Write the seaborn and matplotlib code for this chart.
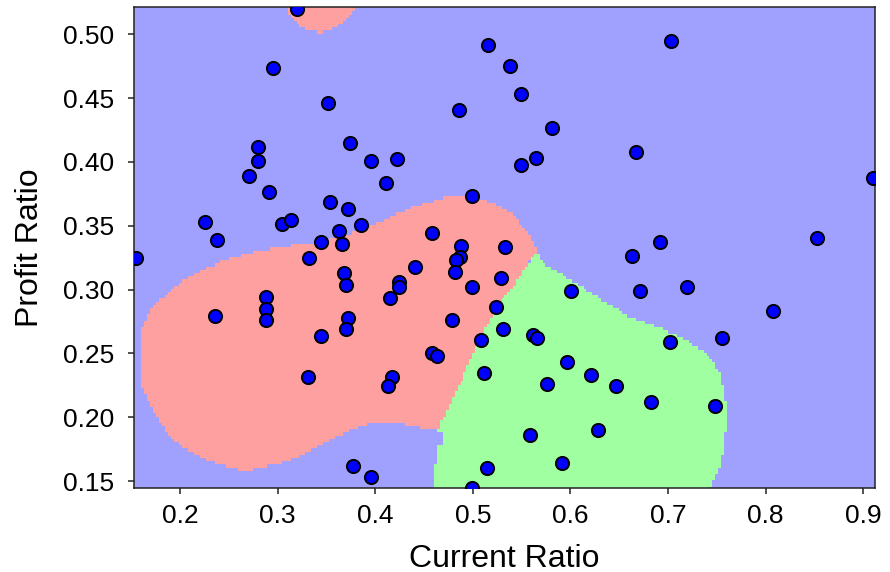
import numpy as np
import pandas as pd
import matplotlib
matplotlib.use("Agg")
import matplotlib.pyplot as plt
import seaborn as sns
from matplotlib.path import Path
from matplotlib.colors import ListedColormap

# ---- data points ----
current_ratio = [
    0.320, 0.2953, 0.352, 0.2796, 0.3745, 0.2796, 0.3954, 0.4107, 0.4223, 0.2704,
    0.2912, 0.354, 0.3721, 0.2256, 0.3042, 0.3134, 0.3858, 0.2382, 0.3629, 0.3448,
    0.3657, 0.1546, 0.3318, 0.368, 0.3701, 0.2881, 0.2881, 0.2881, 0.2362, 0.3721,
    0.3701, 0.3448, 0.3316, 0.3769, 0.3954,
    0.5153, 0.5378, 0.5491, 0.4855, 0.5808, 0.5651, 0.5491, 0.4995, 0.4585, 0.4879,
    0.533, 0.4869, 0.4828, 0.4404, 0.4813, 0.4247, 0.4247, 0.5289, 0.4155, 0.4995,
    0.6009, 0.5241, 0.4787, 0.5309, 0.562, 0.5653, 0.5084, 0.4585, 0.463, 0.5969,
    0.5112, 0.6211, 0.4176, 0.4135, 0.5763, 0.6462, 0.5586, 0.6283, 0.5149, 0.5911,
    0.4995,
    0.7031, 0.6669, 0.9097, 0.6918, 0.8524, 0.6628, 0.6716, 0.7191, 0.8073, 0.7018,
    0.7553, 0.6829, 0.7485,
]
profit_ratio = [
    0.5196, 0.4736, 0.4459, 0.4117, 0.4148, 0.4007, 0.4007, 0.3837, 0.4027, 0.3892,
    0.3766, 0.3683, 0.3631, 0.3527, 0.3511, 0.3545, 0.3508, 0.3388, 0.3458, 0.3370,
    0.3354, 0.3245, 0.3245, 0.3127, 0.3035, 0.2939, 0.2847, 0.2761, 0.2795, 0.2779,
    0.2690, 0.2638, 0.2312, 0.1619, 0.1531,
    0.4914, 0.4754, 0.4530, 0.4409, 0.4268, 0.4028, 0.3976, 0.3733, 0.3440, 0.3341,
    0.3331, 0.3257, 0.3231, 0.3179, 0.3140, 0.3061, 0.3022, 0.3093, 0.2936, 0.3022,
    0.2988, 0.2865, 0.2761, 0.2690, 0.2643, 0.2622, 0.2604, 0.2500, 0.2481, 0.2432,
    0.2346, 0.2330, 0.2314, 0.2244, 0.2259, 0.2244, 0.1862, 0.1897, 0.1601, 0.1638,
    0.1442,
    0.4945, 0.4078, 0.3871, 0.3370, 0.3404, 0.3265, 0.2988, 0.3022, 0.2831, 0.2589,
    0.2622, 0.2118, 0.2087,
]

# ---- decision-region boundaries (data units) ----
red_bx = [0.5658, 0.5607, 0.5514, 0.5412, 0.5248, 0.5074, 0.4900, 0.4736, 0.4562, 0.4387,
          0.4152, 0.3875, 0.3609, 0.3404, 0.3199, 0.2850, 0.2512, 0.2338, 0.2174, 0.2000,
          0.1826, 0.1693, 0.1621, 0.1590, 0.1590, 0.1662, 0.1764, 0.1898, 0.2072, 0.2277,
          0.2512, 0.2645, 0.2789, 0.3025, 0.3301, 0.3537, 0.3742, 0.3947, 0.4223, 0.4428,
          0.4633, 0.4684, 0.4797, 0.4889, 0.4941, 0.5074, 0.5248, 0.5412, 0.5555]
red_by = [0.3310, 0.3388, 0.3490, 0.3600, 0.3662, 0.3717, 0.3741, 0.3725, 0.3686, 0.3647,
          0.3568, 0.3466, 0.3404, 0.3372, 0.3349, 0.3310, 0.3247, 0.3192, 0.3129, 0.3051,
          0.2941, 0.2839, 0.2722, 0.2604, 0.2267, 0.2158, 0.2001, 0.1844, 0.1742, 0.1664,
          0.1609, 0.1578, 0.1601, 0.1640, 0.1719, 0.1821, 0.1899, 0.1954, 0.1954, 0.1922,
          0.1891, 0.1977, 0.2158, 0.2291, 0.2393, 0.2628, 0.2863, 0.3020, 0.3192]

red_top_bx = [0.3055, 0.3076, 0.3127, 0.3230, 0.3434, 0.3639, 0.3762, 0.3803, 0.3814]
red_top_by = [0.5269, 0.5214, 0.5136, 0.5057, 0.5010, 0.5073, 0.5167, 0.5214, 0.5269]

green_bx = [0.5658, 0.5719, 0.5893, 0.6170, 0.6437, 0.6611, 0.6918, 0.7123, 0.7297, 0.7430,
            0.7533, 0.7584, 0.7605, 0.7584, 0.7533, 0.7430, 0.7400, 0.4592, 0.4592, 0.4613,
            0.4643, 0.4684, 0.4684, 0.4633, 0.4684, 0.4797, 0.4889, 0.4941, 0.5074, 0.5248,
            0.5412, 0.5555]
green_by = [0.3294, 0.3208, 0.3129, 0.2996, 0.2863, 0.2785, 0.2698, 0.2628, 0.2549, 0.2471,
            0.2346, 0.2158, 0.2032, 0.1821, 0.1609, 0.1444, 0.1350, 0.1350, 0.1444, 0.1609,
            0.1766, 0.1781, 0.1875, 0.1891, 0.1977, 0.2158, 0.2291, 0.2393, 0.2628, 0.2863,
            0.3020, 0.3192]

x_ticks = [0.2, 0.3, 0.4, 0.5, 0.6, 0.7, 0.8, 0.9]
y_ticks = [0.15, 0.20, 0.25, 0.30, 0.35, 0.40, 0.45, 0.50]
x_limits = (0.1529, 0.912)
y_limits = (0.1443, 0.5212)

region_colors = ['#FFA0A0', '#A0FFA0', '#A0A0FF']

sns.set_theme(style="ticks")
plt.rcParams['font.family'] = ['Liberation Sans', 'DejaVu Sans']

fig = plt.figure(figsize=(8.9, 5.72), dpi=100)
ax = fig.add_axes([0.1506, 0.1463, 0.8326, 0.8409])

# rasterised decision regions on a mesh grid
xx, yy = np.meshgrid(np.arange(x_limits[0] - 0.003, x_limits[1] + 0.003, 0.003),
                     np.arange(y_limits[0] - 0.0025, y_limits[1] + 0.0025, 0.0025))
grid = np.c_[xx.ravel(), yy.ravel()]
Z = np.full(len(grid), 2)
for bx, by in [(red_bx, red_by), (red_top_bx, red_top_by)]:
    Z[Path(np.c_[bx, by]).contains_points(grid)] = 0
Z[Path(np.c_[green_bx, green_by]).contains_points(grid)] = 1
Z = Z.reshape(xx.shape)
ax.pcolormesh(xx, yy, Z, cmap=ListedColormap(region_colors), vmin=0, vmax=2,
              shading='nearest', zorder=1)

df = pd.DataFrame({"Current Ratio": current_ratio, "Profit Ratio": profit_ratio})
sns.scatterplot(data=df, x="Current Ratio", y="Profit Ratio", ax=ax, color='#0000FF',
                edgecolor='black', linewidth=1.4, s=90, zorder=3, legend=False)

ax.set_xlim(*x_limits)
ax.set_ylim(*y_limits)
ax.set_xticks(x_ticks)
ax.set_xticklabels([f"{v:.1f}" for v in x_ticks])
ax.set_yticks(y_ticks)
ax.set_yticklabels([f"{v:.2f}" for v in y_ticks])
ax.tick_params(axis='both', labelsize=19, length=4.5, width=1.1, color='#222222',
               labelcolor='black', direction='out')
ax.tick_params(axis='y', pad=10)
ax.tick_params(axis='x', pad=7)
for sp in ax.spines.values():
    sp.set_color('#222222')
    sp.set_linewidth(1.1)
ax.set_xlabel("Current Ratio", fontsize=23, color='black', labelpad=11)
ax.set_ylabel("Profit Ratio", fontsize=23, color='black', labelpad=13)

fig.savefig("out.png", dpi=100)
